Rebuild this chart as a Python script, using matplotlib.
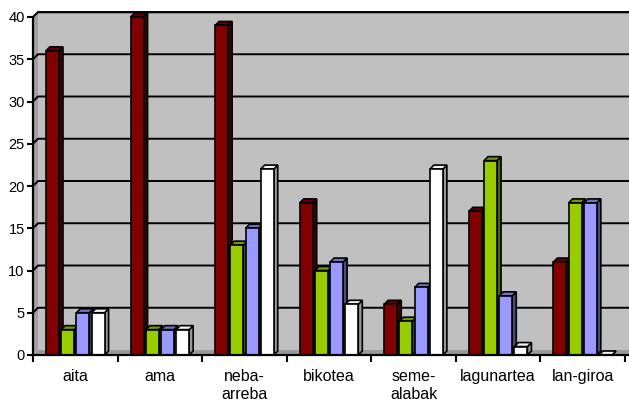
import matplotlib
matplotlib.use('Agg')
import matplotlib.pyplot as plt
from matplotlib.patches import Polygon
import numpy as np

plt.rcParams['font.family'] = ['Liberation Sans', 'DejaVu Sans']

categories = ['aita', 'ama', 'neba-\narreba', 'bikotea', 'seme-\nalabak', 'lagunartea', 'lan-giroa']
series_red = [36, 40, 39, 18, 6, 17, 11]
series_green = [3, 3, 13, 10, 4, 23, 18]
series_blue = [5, 3, 15, 11, 8, 7, 18]
series_white = [5, 3, 22, 6, 22, 1, 0]
y_ticks = [0, 5, 10, 15, 20, 25, 30, 35, 40]

colors = ['#800000', '#99CC00', '#9999FF', '#FFFFFF']

W, H = 629, 405
fig = plt.figure(figsize=(W / 100, H / 100), dpi=100)
left_px, right_px, top_px, bottom_px = 33, 629, 12, 355
ax = fig.add_axes([left_px / W, (H - bottom_px) / H, (right_px - left_px) / W, (bottom_px - top_px) / H])

ncat = len(categories)
px_per_cat = 592 / ncat
px_per_unit = (bottom_px - 17) / 40.0
xmax = (right_px - left_px) / px_per_cat
ymax = (bottom_px - top_px) / px_per_unit
ax.set_xlim(0, xmax)
ax.set_ylim(0, ymax)
ax.set_facecolor('none')

# depth offsets in data units
wdx, wdy = 5 / px_per_cat, 5 / px_per_unit
bdx, bdy = 4 / px_per_cat, 4 / px_per_unit
top_val = max(y_ticks)

def poly(pts, fc, ec='black', lw=1.2, z=1):
  p = Polygon(pts, closed=True, facecolor=fc, edgecolor=ec, linewidth=lw, zorder=z, clip_on=False)
  ax.add_patch(p)

# back wall, side wall, floor
poly([(wdx, wdy), (xmax, wdy), (xmax, top_val + wdy), (wdx, top_val + wdy)], '#C0C0C0', ec='none', z=0.5)
poly([(0, 0), (wdx, wdy), (wdx, top_val + wdy), (0, top_val)], '#A0A0A0', ec='none', z=0.5)
poly([(0, 0), (xmax, 0), (xmax, wdy), (wdx, wdy)], '#9A9A9A', ec='none', z=0.6)
ax.plot([wdx, xmax], [top_val + wdy, top_val + wdy], color='#808080', lw=2, zorder=0.7, clip_on=False)

for t in y_ticks[1:]:
  ax.plot([0, wdx, xmax], [t, t + wdy, t + wdy], color='black', lw=1.4, zorder=0.8, clip_on=False)

def shade(c, f):
  rgb = np.array(matplotlib.colors.to_rgb(c))
  return tuple(rgb * f)

slot = 15.2 / px_per_cat
bw = 13.0 / px_per_cat
data = [series_red, series_green, series_blue, series_white]
for i in range(ncat):
  x0 = i + 0.5 - 2 * slot + (slot - bw) / 2
  for j, vals in enumerate(data):
    v = vals[i]
    xl = x0 + j * slot
    xr = xl + bw
    z = 2 + i * 0.1 + j * 0.01
    side_f = 0.5 if j < 3 else 0.6
    # side face
    poly([(xr, 0), (xr + bdx, bdy), (xr + bdx, v + bdy), (xr, v)], shade(colors[j], side_f), z=z)
    # top face
    poly([(xl, v), (xr, v), (xr + bdx, v + bdy), (xl + bdx, v + bdy)], shade(colors[j], 0.75 if j < 3 else 0.95), z=z)
    # front face
    poly([(xl, 0), (xr, 0), (xr, v), (xl, v)], colors[j], z=z)

for s in ['top', 'right']:
  ax.spines[s].set_visible(False)
ax.spines['left'].set_bounds(0, top_val)
ax.spines['left'].set_linewidth(1.6)
ax.spines['bottom'].set_linewidth(1.6)
ax.spines['left'].set_zorder(5)
ax.spines['bottom'].set_zorder(5)

ax.set_yticks(y_ticks)
ax.tick_params(axis='y', direction='out', length=4, width=1.5, pad=2, labelsize=10.5)
ax.set_xticks(np.arange(ncat + 1))
ax.set_xticklabels([])
ax.tick_params(axis='x', which='major', direction='out', length=5, width=1.5)
ax.set_xticks(np.arange(ncat) + 0.5, minor=True)
ax.set_xticklabels(categories, minor=True, fontsize=11.5, linespacing=1.3)
ax.tick_params(axis='x', which='minor', length=0, pad=10)

fig.savefig('out.png', dpi=100)
